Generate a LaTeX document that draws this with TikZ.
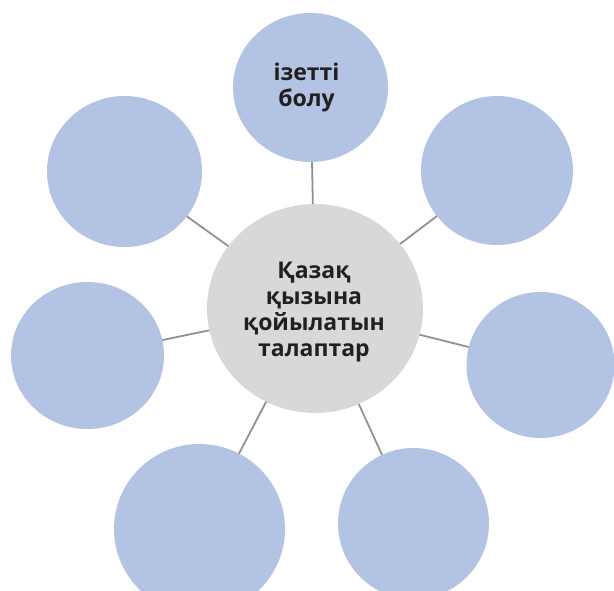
\documentclass[tikz,border=0pt]{standalone}
\usepackage{fontspec}
\setmainfont{Open Sans}
\usetikzlibrary{shapes.geometric}
\definecolor{bubblefill}{RGB}{179,195,227}
\definecolor{hubfill}{RGB}{215,216,216}
\definecolor{spoke}{RGB}{143,146,146}
\definecolor{ink}{RGB}{35,31,32}
\pgfdeclarelayer{spokelayer}
\pgfsetlayers{spokelayer,main}
\begin{document}
\begin{tikzpicture}[x=1pt,y=-1pt,
  bubble/.style={ellipse, fill=bubblefill, draw=none, inner sep=0pt},
  hub/.style={ellipse, fill=hubfill, draw=none, inner sep=0pt},
  spokeline/.style={draw=spoke, line width=1.8pt},
  lbl/.style={font=\bfseries\fontsize{23}{26}\selectfont, text=ink, align=center, inner sep=0pt}]
\useasboundingbox (0,0) rectangle (614,591);
\node[hub, minimum width=216pt, minimum height=209pt] (C) at (315,308.5) {};
\node[bubble, minimum width=155pt, minimum height=149pt] (T)  at (310.5,87.5) {};
\node[bubble, minimum width=152pt, minimum height=149pt] (TR) at (497,170.5) {};
\node[bubble, minimum width=148pt, minimum height=146pt] (R)  at (540.5,365) {};
\node[bubble, minimum width=151pt, minimum height=151pt] (BR) at (413.5,523.5) {};
\node[bubble, minimum width=171pt, minimum height=170pt] (BL) at (199.5,529) {};
\node[bubble, minimum width=153pt, minimum height=147pt] (L)  at (87.5,355.5) {};
\node[bubble, minimum width=155pt, minimum height=151pt] (TL) at (124.5,171.5) {};
\node[lbl] (ctext) at (314,312) {Қазақ\\қызына\\қойылатын\\талаптар};
\node[lbl] (ttext) at (306.5,87.5) {ізетті\\болу};
\begin{pgfonlayer}{spokelayer}
  \foreach \n in {T,TR,R,BR,BL,L,TL}
    \draw[spokeline] (C.center) -- (\n.center);
\end{pgfonlayer}
\end{tikzpicture}
\end{document}
